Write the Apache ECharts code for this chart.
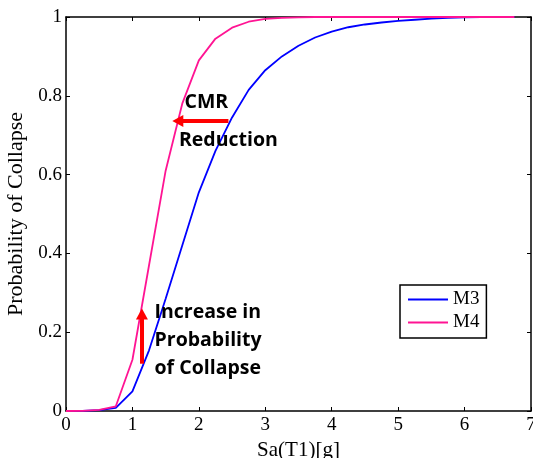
<!DOCTYPE html>
<html>
<head>
<meta charset="utf-8">
<style>
  html, body { margin: 0; padding: 0; background: #fff; }
  #chart { width: 533px; height: 458px; }
</style>
<script src="https://cdn.jsdelivr.net/npm/echarts@6/dist/echarts.min.js"></script>
</head>
<body>
<div id="chart"></div>
<script>
// Spectral acceleration levels Sa(T1) in g
const saLevels = [0, 0.25, 0.5, 0.75, 1.0, 1.25, 1.5, 1.75, 2.0, 2.25, 2.5, 2.75, 3.0, 3.25, 3.5,
  3.75, 4.0, 4.25, 4.5, 4.75, 5.0, 5.25, 5.5, 5.75, 6.0, 6.25, 6.5, 6.75];

// Collapse fragility, model M3
const probM3 = [0, 0.0005, 0.002, 0.008, 0.05, 0.154, 0.285, 0.42, 0.555, 0.66, 0.745, 0.815, 0.865,
  0.9, 0.927, 0.948, 0.963, 0.974, 0.981, 0.986, 0.99, 0.993, 0.996, 0.998, 0.999, 1, 1, 1];

// Collapse fragility, model M4
const probM4 = [0, 0.0005, 0.003, 0.012, 0.13, 0.37, 0.61, 0.78, 0.89, 0.945, 0.973, 0.988, 0.995,
  0.998, 0.999, 1, 1, 1, 1, 1, 1, 1, 1, 1, 1, 1, 1, 1];

const seriesNames = ['M3', 'M4'];
const xTicks = { min: 0, max: 7, interval: 1 };
const yTicks = { min: 0, max: 1, interval: 0.2 };

// Annotation arrows: [start, end] in data coordinates
const cmrArrow = [[2.445, 0.736], [1.683, 0.736]];
const probArrow = [[1.143, 0.12], [1.143, 0.246]];

// Annotation texts and their anchor (left edge, vertical centre)
const notes = [
  { text: 'CMR', at: [1.784, 0.783] },
  { text: 'Reduction', at: [1.70, 0.686] },
  { text: 'Increase in\nProbability\nof Collapse', at: [1.333, 0.178] }
];

const pairs = (xs, ys) => xs.map((x, i) => [x, ys[i]]);

const serif = '"Liberation Serif", "Times New Roman", serif';
const bold = '"Open Sans", "Noto Sans", sans-serif';

const chart = echarts.init(document.getElementById('chart'), null, { renderer: 'canvas' });

const axisCommon = {
  type: 'value',
  splitLine: { show: false },
  axisLine: { show: true, onZero: false, lineStyle: { color: '#000', width: 1.5 } },
  axisTick: { show: true, inside: true, length: 4, lineStyle: { color: '#000', width: 1 } }
};

const arrowLine = (seg) => ({
  silent: true,
  animation: false,
  symbol: ['none', 'triangle'],
  symbolSize: [12, 11],
  label: { show: false },
  lineStyle: { color: '#ff0000', width: 4, type: 'solid' },
  data: [[{ coord: seg[0] }, { coord: seg[1] }]]
});

chart.setOption({
  animation: false,
  backgroundColor: '#fff',
  grid: { left: 66, top: 17, right: 2, bottom: 47, containLabel: false, outerBoundsMode: 'none' },
  xAxis: [
    Object.assign({}, axisCommon, {
      position: 'bottom',
      min: xTicks.min, max: xTicks.max, interval: xTicks.interval,
      name: 'Sa(T1)[g]',
      nameLocation: 'middle',
      nameGap: 20,
      nameTextStyle: { fontFamily: serif, fontSize: 21, color: '#000' },
      axisLabel: { show: true, margin: 5, fontFamily: serif, fontSize: 19, color: '#000' }
    }),
    Object.assign({}, axisCommon, {
      position: 'top',
      min: xTicks.min, max: xTicks.max, interval: xTicks.interval,
      axisLabel: { show: false }
    })
  ],
  yAxis: [
    Object.assign({}, axisCommon, {
      position: 'left',
      min: yTicks.min, max: yTicks.max, interval: yTicks.interval,
      name: 'Probability of Collapse',
      nameLocation: 'middle',
      nameGap: 33,
      nameTextStyle: { fontFamily: serif, fontSize: 22, color: '#000' },
      axisLabel: { show: true, margin: 4, fontFamily: serif, fontSize: 19, color: '#000' }
    }),
    Object.assign({}, axisCommon, {
      position: 'right',
      min: yTicks.min, max: yTicks.max, interval: yTicks.interval,
      axisLabel: { show: false }
    })
  ],
  legend: {
    data: seriesNames,
    orient: 'vertical',
    left: 400,
    top: 285,
    padding: [5, 7, 6, 8],
    itemGap: 4,
    itemWidth: 40,
    itemHeight: 2,
    icon: 'rect',
    borderColor: '#000',
    borderWidth: 1.5,
    borderRadius: 0,
    backgroundColor: '#fff',
    textStyle: { fontFamily: serif, fontSize: 19, lineHeight: 19, color: '#000', padding: [0, 0, 0, 0] }
  },
  series: [
    {
      name: seriesNames[0],
      type: 'line',
      data: pairs(saLevels, probM3),
      symbol: 'none',
      lineStyle: { color: '#0000ff', width: 1.8 },
      itemStyle: { color: '#0000ff' },
      z: 3
    },
    {
      name: seriesNames[1],
      type: 'line',
      data: pairs(saLevels, probM4),
      symbol: 'none',
      lineStyle: { color: '#ff1493', width: 1.8 },
      itemStyle: { color: '#ff1493' },
      z: 4,
      markLine: arrowLine(cmrArrow)
    },
    {
      type: 'line',
      data: [],
      symbol: 'none',
      markLine: arrowLine(probArrow),
      markPoint: {
        silent: true,
        animation: false,
        symbol: 'circle',
        symbolSize: 0,
        data: notes.map(n => ({
          coord: n.at,
          label: {
            show: true,
            formatter: n.text,
            position: 'right',
            distance: 0,
            align: 'left',
            verticalAlign: 'middle',
            fontFamily: bold,
            fontWeight: 'bold',
            fontSize: 19.5,
            lineHeight: 28,
            color: '#000'
          }
        }))
      },
      z: 5
    }
  ]
});
</script>
</body>
</html>
